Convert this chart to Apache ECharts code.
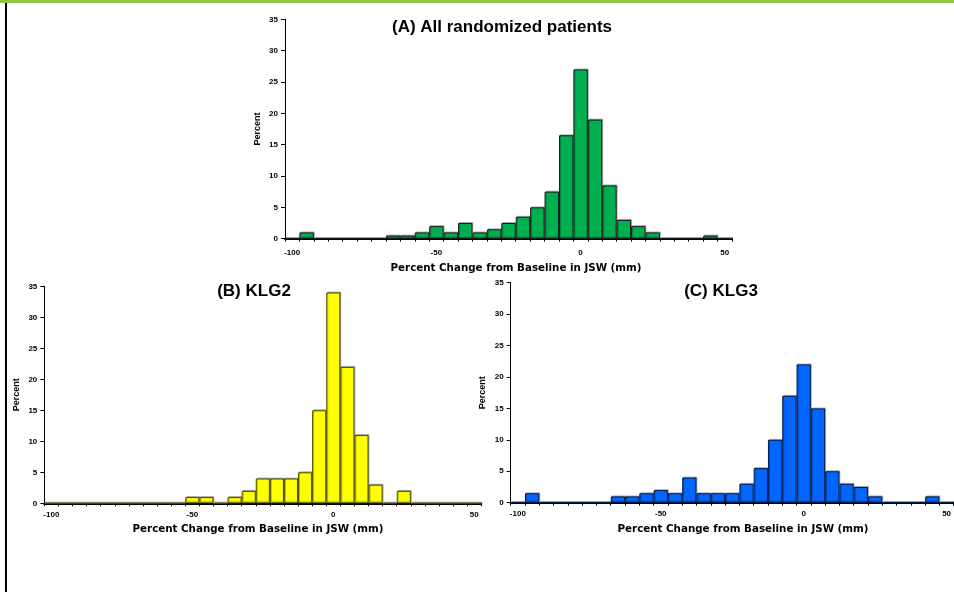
<!DOCTYPE html>
<html>
<head>
<meta charset="utf-8">
<script src="https://cdn.jsdelivr.net/npm/echarts@6/dist/echarts.min.js"></script>
<style>html,body{margin:0;padding:0;background:#fff;}#chart{width:954px;height:592px;}</style>
</head>
<body>
<div id="chart"></div>
<script>
// Bin centres (percent change from baseline), shared by all three histograms
const categories = ['-100','-95','-90','-85','-80','-75','-70','-65','-60','-55','-50','-45','-40','-35','-30','-25','-20','-15','-10','-5','0','5','10','15','20','25','30','35','40','45','50'];
const tickLabels = ['-100','-50','0','50'];
// Percent of patients per bin
const allPatients = [0,1,0,0,0,0,0,0.5,0.5,1,2,1,2.5,1,1.5,2.5,3.5,5,7.5,16.5,27,19,8.5,3,2,1,0,0,0,0.5,0];
const klg2 = [0,0,0,0,0,0,0,0,0,0,1,1,0,1,2,4,4,4,5,15,34,22,11,3,0,2,0,0,0,0,0];
const klg3 = [0,1.5,0,0,0,0,0,1,1,1.5,2,1.5,4,1.5,1.5,1.5,3,5.5,10,17,22,15,5,3,2.5,1,0,0,0,1,0];
const panelTitles = ['(A) All randomized patients','(B) KLG2','(C) KLG3'];
const xTitle = 'Percent Change from Baseline in JSW (mm)';
const yTitle = 'Percent';

const chart = echarts.init(document.getElementById('chart'), null, {renderer:'canvas'});

const grids = [
  {left:285, top:19.3, width:447, height:219.4},
  {left:44.3, top:286.3, width:437, height:217},
  {left:510.7, top:282.7, width:446, height:220}
];
const labelMargins = [10, 7, 7];
const nameGaps = [23, 23, 24];

function xAxis(i){
  return {
    type:'category', gridIndex:i, data:categories, boundaryGap:true,
    axisLine:{show:true, lineStyle:{color:'#000', width:2}},
    axisTick:{show:true, interval:0, length:3, alignWithLabel:false, lineStyle:{color:'#000', width:1}},
    axisLabel:{
      interval:0, margin:labelMargins[i], color:'#000',
      fontFamily:'Liberation Sans, Arial, sans-serif', fontWeight:'bold', fontSize:8,
      formatter:function(v){ return tickLabels.indexOf(v) >= 0 ? v : ''; }
    },
    splitLine:{show:false}
  };
}
function yAxis(i){
  return {
    type:'value', gridIndex:i, min:0, max:35, interval:5,
    name:yTitle, nameLocation:'middle', nameRotate:90, nameGap:nameGaps[i],
    nameTextStyle:{color:'#000', fontFamily:'Liberation Sans, Arial, sans-serif', fontWeight:'bold', fontSize:9},
    axisLine:{show:true, lineStyle:{color:'#000', width:1}},
    axisTick:{show:true, length:4, lineStyle:{color:'#000'}},
    axisLabel:{margin:7, color:'#000', fontFamily:'Liberation Sans, Arial, sans-serif', fontWeight:'bold', fontSize:8},
    splitLine:{show:false}
  };
}
function barSeries(i, data, fill, border){
  return {
    type:'bar', xAxisIndex:i, yAxisIndex:i, data:data,
    barCategoryGap:'0%', barGap:'0%', silent:true, animation:false,
    itemStyle:{color:fill, borderColor:border, borderWidth:1,
      shadowColor:'rgba(0,0,0,0.25)', shadowBlur:0, shadowOffsetX:1, shadowOffsetY:-1}
  };
}

const titleFont = 'bold 17px "Liberation Sans", Arial, sans-serif';
const xTitleFont = 'bold 10.3px "DejaVu Sans", Verdana, sans-serif';
function txt(x, y, text, font){
  return {type:'text', x:x, y:y, silent:true,
    style:{text:text, font:font, fill:'#000', align:'center', verticalAlign:'middle'}};
}

chart.setOption({
  animation:false,
  backgroundColor:'#fff',
  grid:grids,
  xAxis:[xAxis(0), xAxis(1), xAxis(2)],
  yAxis:[yAxis(0), yAxis(1), yAxis(2)],
  series:[
    barSeries(0, allPatients, '#00b050', '#1a1a1a'),
    barSeries(1, klg2, '#ffff00', '#4a4a00'),
    barSeries(2, klg3, '#0066ff', '#001a4d')
  ],
  graphic:[
    {type:'rect', shape:{x:0, y:0, width:954, height:3}, style:{fill:'#8dc63f'}, silent:true},
    {type:'line', shape:{x1:6, y1:3, x2:6, y2:592}, style:{stroke:'#000', lineWidth:2}, silent:true},
    txt(502, 27.3, panelTitles[0], titleFont),
    txt(254, 291.7, panelTitles[1], titleFont),
    txt(721, 291, panelTitles[2], titleFont),
    txt(516, 268, xTitle, xTitleFont),
    txt(258, 529, xTitle, xTitleFont),
    txt(743, 529, xTitle, xTitleFont)
  ]
});
</script>
</body>
</html>
